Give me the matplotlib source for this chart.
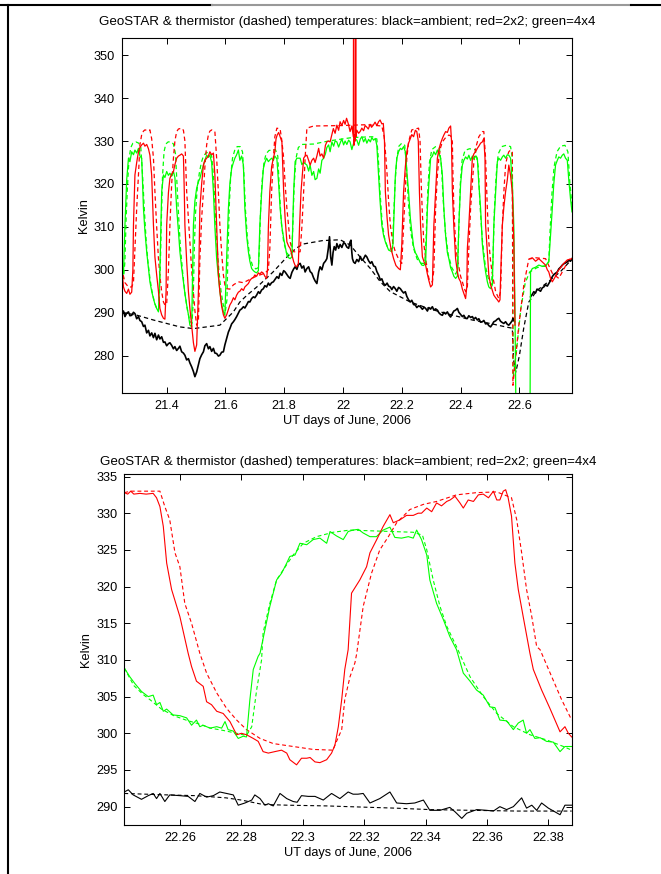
import numpy as np
import matplotlib
matplotlib.use("Agg")
import matplotlib.pyplot as plt
from matplotlib.lines import Line2D

plt.rcParams["font.family"] = ["Liberation Sans", "DejaVu Sans"]

TITLE = "GeoSTAR & thermistor (dashed) temperatures: black=ambient; red=2x2; green=4x4"
XLABEL = "UT days of June, 2006"
YLABEL = "Kelvin"
nan = np.nan

# ---- top panel (whole record), (UT day, K) ----
top_black = [
    (21.248, 289.8), (21.253, 290.4), (21.258, 289.1), (21.264, 289.9), (21.270, 290.2), (21.275, 289.3),
    (21.281, 289.4), (21.287, 290.1), (21.292, 289.8), (21.298, 288.6), (21.304, 289.1), (21.309, 288.2),
    (21.315, 287.9), (21.321, 286.8), (21.326, 287.1), (21.332, 285.3), (21.338, 285.9), (21.343, 284.6),
    (21.349, 285.3), (21.355, 284.2), (21.360, 285.2), (21.366, 283.7), (21.372, 284.8), (21.377, 283.9),
    (21.383, 284.4), (21.389, 283.1), (21.394, 283.2), (21.400, 282.3), (21.406, 282.8), (21.411, 283.0),
    (21.417, 282.4), (21.423, 281.6), (21.428, 282.1), (21.434, 281.2), (21.440, 281.7), (21.445, 282.2),
    (21.451, 280.9), (21.457, 280.6), (21.462, 280.1), (21.468, 279.0), (21.474, 279.3), (21.479, 278.3),
    (21.485, 277.4), (21.491, 276.3), (21.496, 275.1), (21.502, 276.2), (21.508, 277.9), (21.513, 279.3),
    (21.519, 280.2), (21.525, 280.9), (21.530, 282.3), (21.536, 282.8), (21.542, 281.6), (21.547, 282.1),
    (21.553, 281.0), (21.559, 281.7), (21.564, 280.6), (21.570, 280.5), (21.576, 279.9), (21.581, 280.1),
    (21.587, 280.8), (21.593, 280.9), (21.598, 282.5), (21.604, 284.0), (21.610, 285.5), (21.615, 286.3),
    (21.621, 287.4), (21.627, 287.9), (21.632, 288.4), (21.638, 289.1), (21.644, 289.9), (21.649, 290.6),
    (21.655, 290.9), (21.661, 291.4), (21.666, 291.1), (21.672, 291.8), (21.678, 292.6), (21.683, 292.5),
    (21.689, 293.3), (21.695, 293.7), (21.700, 293.5), (21.706, 294.1), (21.712, 294.9), (21.717, 294.5),
    (21.723, 295.3), (21.729, 295.6), (21.734, 296.3), (21.740, 296.0), (21.746, 296.9), (21.751, 296.4),
    (21.757, 297.0), (21.763, 297.2), (21.769, 297.8), (21.775, 298.4), (21.781, 298.0), (21.786, 299.2),
    (21.792, 298.7), (21.798, 299.8), (21.803, 299.5), (21.809, 298.9), (21.815, 298.3), (21.820, 298.0),
    (21.826, 299.4), (21.832, 300.2), (21.837, 300.7), (21.843, 300.1), (21.848, 301.2), (21.854, 301.5),
    (21.860, 300.4), (21.866, 300.9), (21.871, 299.5), (21.877, 300.3), (21.883, 300.7), (21.888, 299.6),
    (21.894, 299.2), (21.900, 298.1), (21.905, 297.4), (21.911, 296.8), (21.917, 299.5), (21.922, 300.7),
    (21.928, 300.0), (21.934, 301.5), (21.940, 302.0), (21.945, 302.6), (21.950, 305.0), (21.954, 307.7),
    (21.958, 303.0), (21.962, 301.1), (21.966, 304.0), (21.970, 305.4), (21.975, 304.6), (21.979, 306.1),
    (21.985, 305.0), (21.990, 305.9), (21.996, 305.2), (22.002, 306.3), (22.007, 306.1), (22.013, 305.3),
    (22.019, 305.0), (22.024, 306.5), (22.027, 306.9), (22.030, 304.0), (22.032, 302.6), (22.036, 301.8),
    (22.041, 301.5), (22.047, 302.4), (22.053, 301.9), (22.059, 303.1), (22.064, 302.2), (22.070, 302.6),
    (22.076, 303.4), (22.081, 303.0), (22.087, 302.1), (22.093, 301.5), (22.098, 301.9), (22.104, 300.9),
    (22.110, 300.7), (22.115, 299.6), (22.121, 298.8), (22.127, 297.6), (22.132, 297.9), (22.138, 296.8),
    (22.144, 296.4), (22.150, 296.9), (22.155, 296.2), (22.161, 296.0), (22.166, 295.4), (22.172, 296.1),
    (22.178, 295.6), (22.183, 295.0), (22.189, 295.9), (22.195, 295.6), (22.200, 295.1), (22.206, 294.6),
    (22.212, 294.9), (22.217, 293.8), (22.223, 293.0), (22.229, 292.5), (22.234, 292.9), (22.240, 291.9),
    (22.246, 291.8), (22.251, 291.2), (22.257, 291.6), (22.263, 291.4), (22.270, 290.8), (22.276, 291.3),
    (22.281, 291.0), (22.287, 290.4), (22.292, 291.2), (22.298, 290.9), (22.304, 291.4), (22.309, 290.6),
    (22.315, 290.9), (22.321, 290.6), (22.326, 290.0), (22.332, 289.6), (22.338, 289.4), (22.343, 290.1),
    (22.349, 289.7), (22.355, 290.2), (22.360, 289.5), (22.366, 289.0), (22.372, 289.8), (22.377, 290.4),
    (22.383, 290.6), (22.389, 291.0), (22.394, 290.1), (22.400, 289.6), (22.406, 289.1), (22.411, 289.4),
    (22.417, 288.7), (22.423, 288.7), (22.428, 289.3), (22.434, 288.9), (22.440, 289.1), (22.445, 288.5),
    (22.451, 288.9), (22.457, 288.3), (22.462, 288.6), (22.468, 287.8), (22.474, 287.9), (22.479, 288.2),
    (22.485, 287.4), (22.491, 287.5), (22.496, 287.0), (22.502, 286.7), (22.508, 287.3), (22.513, 287.9),
    (22.519, 288.1), (22.525, 288.5), (22.530, 288.7), (22.536, 288.0), (22.542, 287.7), (22.547, 287.5),
    (22.553, 287.9), (22.559, 287.3), (22.564, 287.1), (22.570, 287.6), (22.576, 288.2), (22.578, 288.7),
    (22.584, 287.9), (22.585, nan), (22.638, 293.7), (22.644, 294.3), (22.649, 294.9), (22.655, 294.6),
    (22.660, 295.5), (22.666, 295.3), (22.672, 295.0), (22.678, 295.8), (22.683, 296.0), (22.689, 296.5),
    (22.695, 296.2), (22.700, 296.8), (22.706, 297.5), (22.712, 298.4), (22.717, 298.9), (22.723, 299.2),
    (22.729, 299.5), (22.734, 300.2), (22.740, 300.6), (22.746, 301.1), (22.751, 301.4), (22.757, 301.6),
    (22.763, 301.9), (22.768, 302.2), (22.774, 302.0), (22.779, 302.6),
]
top_black_therm = [
    (21.248, 290.1), (21.300, 289.4), (21.355, 288.3), (21.400, 287.5), (21.445, 286.7), (21.491, 286.3),
    (21.536, 286.7), (21.581, 287.1), (21.593, 287.9), (21.627, 290.2), (21.649, 292.5), (21.672, 294.0),
    (21.717, 296.6), (21.762, 299.5), (21.808, 302.9), (21.840, 305.0), (21.864, 306.0), (21.930, 306.8),
    (21.990, 307.0), (22.024, 305.8), (22.058, 303.0), (22.093, 300.3), (22.127, 297.2), (22.161, 294.9),
    (22.195, 293.7), (22.229, 292.5), (22.274, 291.4), (22.320, 290.4), (22.380, 289.3), (22.440, 288.3),
    (22.500, 287.5), (22.560, 286.6), (22.576, 286.4), (22.580, 279.0), (22.588, 276.2), (22.600, 280.0),
    (22.615, 286.5), (22.632, 292.5), (22.660, 295.2), (22.700, 297.3), (22.740, 299.6), (22.779, 302.5),
]
top_red = [
    (21.248, 300.0), (21.253, 296.0), (21.258, 295.0), (21.264, 294.5), (21.270, 295.5), (21.275, 294.3),
    (21.281, 294.8), (21.285, 300.0), (21.287, 310.4), (21.292, 322.1), (21.298, 325.0), (21.304, 327.5),
    (21.309, 328.5), (21.315, 329.1), (21.321, 329.5), (21.326, 328.8), (21.332, 329.2), (21.338, 328.2),
    (21.343, 326.7), (21.349, 322.0), (21.355, 310.4), (21.360, 303.0), (21.366, 298.8), (21.372, 295.0),
    (21.377, 291.0), (21.383, 289.5), (21.389, 288.7), (21.394, 288.5), (21.398, 295.0), (21.400, 310.4),
    (21.406, 318.0), (21.411, 321.3), (21.417, 322.3), (21.423, 322.9), (21.428, 324.5), (21.434, 326.0),
    (21.440, 326.5), (21.445, 326.7), (21.451, 327.0), (21.457, 326.5), (21.460, 318.0), (21.462, 310.4),
    (21.468, 302.0), (21.474, 294.9), (21.479, 291.0), (21.485, 287.1), (21.491, 283.0), (21.496, 281.0),
    (21.502, 282.5), (21.508, 295.0), (21.513, 314.3), (21.519, 320.0), (21.525, 324.4), (21.530, 325.5),
    (21.536, 326.0), (21.542, 326.5), (21.547, 327.5), (21.553, 326.8), (21.559, 327.2), (21.564, 322.1),
    (21.570, 310.4), (21.576, 298.8), (21.581, 295.0), (21.587, 291.5), (21.593, 289.5), (21.598, 288.7),
    (21.604, 289.5), (21.610, 290.8), (21.615, 291.8), (21.621, 292.5), (21.627, 293.5), (21.632, 293.0),
    (21.638, 294.1), (21.644, 294.8), (21.649, 295.0), (21.655, 295.6), (21.661, 295.2), (21.666, 296.0),
    (21.672, 296.4), (21.678, 296.8), (21.683, 297.5), (21.689, 298.0), (21.695, 298.2), (21.700, 298.8),
    (21.706, 298.5), (21.712, 299.3), (21.717, 299.0), (21.723, 299.5), (21.729, 299.2), (21.734, 298.5),
    (21.740, 298.0), (21.743, 300.0), (21.746, 310.0), (21.751, 318.2), (21.757, 324.0), (21.763, 326.0),
    (21.768, 327.5), (21.772, 330.5), (21.776, 331.4), (21.781, 332.0), (21.786, 331.0), (21.792, 329.8),
    (21.798, 318.2), (21.803, 312.0), (21.809, 306.5), (21.815, 305.5), (21.820, 305.0), (21.826, 303.5),
    (21.832, 301.9), (21.837, 301.0), (21.843, 300.7), (21.848, 301.5), (21.852, 310.0), (21.857, 318.2),
    (21.866, 326.0), (21.871, 326.5), (21.877, 326.7), (21.883, 325.5), (21.888, 324.4), (21.894, 325.5),
    (21.900, 326.0), (21.905, 325.0), (21.911, 326.5), (21.917, 328.3), (21.922, 326.5), (21.928, 327.0),
    (21.934, 326.0), (21.940, 329.0), (21.945, 329.8), (21.951, 330.0), (21.956, 329.8), (21.962, 331.5),
    (21.967, 332.9), (21.973, 331.8), (21.979, 333.7), (21.985, 332.5), (21.990, 334.5), (21.996, 333.6),
    (22.002, 334.8), (22.007, 333.9), (22.012, 335.3), (22.018, 334.0), (22.024, 332.2), (22.030, 333.5),
    (22.035, 331.0), (22.036, 370.0), (22.037, 329.0), (22.040, 331.5), (22.042, 330.0), (22.043, 370.0),
    (22.044, 331.0), (22.047, 332.5),
    (22.053, 331.8), (22.058, 332.2), (22.064, 333.0), (22.070, 332.4), (22.075, 333.6), (22.080, 333.3),
    (22.086, 332.8), (22.092, 333.9), (22.097, 333.2), (22.103, 333.7), (22.109, 334.4), (22.115, 333.6),
    (22.121, 334.5), (22.126, 334.9), (22.132, 334.0), (22.137, 334.1), (22.141, 330.0), (22.144, 318.2),
    (22.150, 312.0), (22.155, 308.1), (22.163, 305.0), (22.172, 302.6), (22.180, 301.0), (22.189, 300.3),
    (22.195, 300.0), (22.200, 306.0), (22.206, 318.2), (22.212, 324.0), (22.217, 327.5), (22.223, 329.5),
    (22.229, 330.6), (22.234, 331.5), (22.240, 331.0), (22.246, 332.5), (22.251, 332.2), (22.256, 330.0),
    (22.260, 318.0), (22.264, 310.0), (22.270, 303.0), (22.276, 301.8), (22.281, 301.1), (22.287, 299.0),
    (22.292, 297.5), (22.298, 296.0), (22.304, 296.5), (22.309, 310.4), (22.315, 318.0), (22.321, 326.0),
    (22.326, 328.0), (22.332, 329.5), (22.338, 330.6), (22.343, 331.4), (22.349, 332.2), (22.355, 332.0),
    (22.360, 333.0), (22.366, 333.5), (22.369, 330.0), (22.372, 318.2), (22.377, 310.0), (22.383, 302.6),
    (22.389, 299.5), (22.394, 298.0), (22.400, 297.2), (22.406, 295.5), (22.411, 294.5), (22.417, 293.3),
    (22.421, 296.0), (22.423, 305.0), (22.428, 310.4), (22.434, 318.0), (22.440, 326.0), (22.445, 327.0),
    (22.451, 327.5), (22.457, 328.3), (22.462, 328.8), (22.468, 329.5), (22.474, 329.8), (22.479, 330.6),
    (22.483, 326.0), (22.485, 310.4), (22.491, 304.0), (22.496, 298.8), (22.502, 296.5), (22.508, 295.2),
    (22.513, 294.1), (22.519, 293.5), (22.525, 293.0), (22.530, 292.5), (22.534, 293.0), (22.536, 298.0),
    (22.542, 310.4), (22.547, 314.5), (22.553, 318.2), (22.559, 321.0), (22.564, 324.4), (22.570, 322.0),
    (22.576, 318.0), (22.581, 306.5), (22.585, 287.1), (22.586, nan), (22.636, 302.6), (22.644, 302.8),
    (22.655, 302.0), (22.666, 302.6), (22.678, 301.8), (22.689, 301.1), (22.695, 300.0), (22.700, 299.5),
    (22.706, 298.0), (22.712, 297.2), (22.717, 297.8), (22.723, 298.5), (22.729, 299.5), (22.740, 300.5),
    (22.751, 301.5), (22.763, 302.3), (22.779, 302.6),
]
top_red_therm = [
    (21.248, 300.5), (21.253, 298.5), (21.258, 297.0), (21.264, 296.5), (21.270, 296.0), (21.281, 296.0),
    (21.287, 297.0), (21.292, 305.0), (21.298, 314.3), (21.304, 322.1), (21.309, 329.1), (21.315, 331.5),
    (21.321, 332.3), (21.326, 332.6), (21.338, 332.4), (21.343, 332.6), (21.349, 330.5), (21.355, 326.0),
    (21.360, 318.2), (21.366, 310.0), (21.372, 302.6), (21.377, 298.5), (21.383, 294.9), (21.389, 292.5),
    (21.394, 291.8), (21.400, 292.0), (21.406, 300.0), (21.411, 310.4), (21.417, 320.0), (21.423, 326.0),
    (21.428, 330.0), (21.434, 332.2), (21.440, 332.8), (21.451, 333.0), (21.457, 332.5), (21.462, 330.0),
    (21.468, 318.2), (21.474, 312.0), (21.479, 306.5), (21.485, 300.0), (21.491, 294.9), (21.496, 290.5),
    (21.502, 287.1), (21.508, 288.0), (21.513, 302.6), (21.519, 312.0), (21.525, 318.2), (21.530, 324.0),
    (21.536, 329.1), (21.542, 331.5), (21.547, 332.3), (21.553, 332.6), (21.564, 332.2), (21.570, 326.0),
    (21.576, 318.0), (21.581, 310.4), (21.587, 304.0), (21.593, 298.8), (21.598, 296.5), (21.604, 295.6),
    (21.615, 295.5), (21.627, 296.5), (21.644, 297.2), (21.661, 297.0), (21.678, 297.6), (21.695, 298.2),
    (21.717, 298.8), (21.734, 299.2), (21.746, 300.0), (21.751, 305.0), (21.757, 318.2), (21.763, 326.0),
    (21.768, 331.0), (21.775, 333.0), (21.786, 332.8), (21.792, 330.0), (21.798, 326.0), (21.803, 320.0),
    (21.809, 314.3), (21.815, 310.0), (21.820, 306.5), (21.826, 305.0), (21.832, 304.2), (21.854, 304.2),
    (21.860, 310.0), (21.866, 318.2), (21.871, 326.0), (21.877, 333.0), (21.900, 333.5), (21.990, 333.6),
    (22.081, 333.8), (22.132, 333.5), (22.140, 331.0), (22.146, 326.0), (22.150, 322.1), (22.155, 316.0),
    (22.161, 310.4), (22.170, 306.0), (22.178, 304.2), (22.189, 302.5), (22.200, 301.5), (22.206, 310.0),
    (22.212, 318.2), (22.217, 326.0), (22.223, 329.8), (22.234, 332.6), (22.257, 333.0), (22.262, 330.0),
    (22.266, 320.0), (22.270, 313.0), (22.275, 306.0), (22.281, 302.6), (22.287, 300.0), (22.292, 298.0),
    (22.298, 297.2), (22.304, 297.2), (22.309, 300.0), (22.315, 314.3), (22.321, 322.0), (22.326, 326.0),
    (22.332, 328.5), (22.338, 329.8), (22.349, 330.8), (22.360, 331.4), (22.366, 331.2), (22.372, 329.8),
    (22.374, 322.0), (22.377, 314.3), (22.383, 306.0), (22.389, 302.6), (22.400, 298.5), (22.406, 297.2),
    (22.411, 296.0), (22.417, 294.9), (22.423, 296.0), (22.428, 305.0), (22.434, 314.3), (22.440, 320.0),
    (22.445, 325.0), (22.451, 328.3), (22.462, 331.0), (22.474, 332.2), (22.479, 332.2), (22.485, 326.0),
    (22.491, 314.3), (22.496, 306.5), (22.502, 302.0), (22.508, 299.0), (22.513, 297.2), (22.519, 295.0),
    (22.525, 294.0), (22.530, 293.3), (22.536, 295.0), (22.542, 310.4), (22.547, 318.0), (22.553, 324.4),
    (22.559, 326.5), (22.564, 327.5), (22.570, 327.9), (22.576, 327.5), (22.578, 273.1), (22.587, 279.3),
    (22.598, 287.1), (22.615, 296.4), (22.632, 302.5), (22.655, 302.8), (22.689, 302.6), (22.712, 299.2),
    (22.734, 298.0), (22.746, 299.5), (22.768, 302.3), (22.779, 302.8),
]
top_green = [
    (21.248, 300.0), (21.253, 299.0), (21.258, 310.4), (21.264, 321.0), (21.270, 326.0), (21.275, 325.2),
    (21.281, 327.5), (21.287, 326.8), (21.292, 327.9), (21.298, 327.2), (21.304, 328.3), (21.309, 326.5),
    (21.315, 326.0), (21.321, 314.3), (21.326, 309.0), (21.332, 304.2), (21.338, 300.5), (21.343, 297.2),
    (21.349, 295.0), (21.355, 293.3), (21.360, 292.0), (21.366, 291.0), (21.372, 290.2), (21.377, 300.0),
    (21.383, 318.2), (21.389, 322.1), (21.394, 321.5), (21.400, 322.9), (21.406, 322.0), (21.411, 322.5),
    (21.417, 321.8), (21.423, 322.9), (21.428, 321.5), (21.434, 314.3), (21.440, 309.0), (21.445, 304.2),
    (21.451, 300.5), (21.457, 297.2), (21.462, 294.5), (21.468, 291.8), (21.474, 289.5), (21.479, 287.1),
    (21.485, 286.7), (21.491, 310.4), (21.496, 316.0), (21.502, 319.0), (21.508, 320.5), (21.513, 321.3),
    (21.519, 323.0), (21.525, 324.4), (21.530, 325.5), (21.536, 326.7), (21.542, 326.2), (21.547, 326.7),
    (21.553, 325.0), (21.559, 318.2), (21.564, 310.0), (21.570, 302.6), (21.576, 298.5), (21.581, 294.9),
    (21.587, 292.0), (21.593, 290.2), (21.598, 289.4), (21.604, 302.6), (21.610, 314.3), (21.615, 320.0),
    (21.621, 323.6), (21.627, 325.0), (21.632, 326.0), (21.638, 326.8), (21.644, 327.9), (21.649, 325.5),
    (21.655, 326.5), (21.661, 324.4), (21.666, 314.3), (21.672, 308.0), (21.678, 304.2), (21.683, 302.0),
    (21.689, 300.3), (21.695, 299.8), (21.700, 299.5), (21.706, 299.3), (21.712, 299.8), (21.717, 310.4),
    (21.723, 318.0), (21.729, 323.6), (21.734, 325.0), (21.740, 326.0), (21.746, 325.2), (21.751, 325.6),
    (21.757, 326.0), (21.763, 325.5), (21.768, 326.5), (21.775, 325.8), (21.781, 320.0), (21.786, 314.3),
    (21.792, 310.0), (21.798, 307.3), (21.809, 303.4), (21.815, 302.8), (21.820, 302.6), (21.826, 303.0),
    (21.832, 318.2), (21.837, 325.2), (21.843, 326.0), (21.854, 326.0), (21.860, 324.5), (21.866, 325.0),
    (21.877, 324.4), (21.883, 323.0), (21.888, 324.4), (21.894, 322.0), (21.900, 322.9), (21.905, 321.0),
    (21.911, 321.3), (21.917, 323.5), (21.922, 322.5), (21.928, 325.5), (21.934, 326.0), (21.940, 327.0),
    (21.945, 328.5), (21.951, 329.1), (21.956, 327.5), (21.962, 329.8), (21.968, 328.8), (21.973, 330.0),
    (21.979, 329.8), (21.985, 328.6), (21.990, 329.5), (21.996, 330.5), (22.002, 329.1), (22.007, 330.0),
    (22.013, 329.2), (22.019, 330.2), (22.024, 329.8), (22.030, 328.0), (22.036, 329.5), (22.041, 330.5),
    (22.047, 330.2), (22.053, 329.0), (22.059, 330.5), (22.064, 331.0), (22.070, 329.8), (22.076, 330.6),
    (22.081, 329.5), (22.087, 330.4), (22.093, 329.8), (22.098, 330.8), (22.104, 330.2), (22.110, 330.6),
    (22.115, 329.0), (22.121, 322.1), (22.126, 316.0), (22.132, 310.4), (22.138, 308.0), (22.144, 306.5),
    (22.150, 305.5), (22.155, 304.6), (22.161, 304.4), (22.166, 304.2), (22.170, 306.0), (22.174, 314.3),
    (22.178, 322.0), (22.183, 326.0), (22.189, 327.5), (22.195, 328.3), (22.200, 328.0), (22.206, 328.7),
    (22.212, 327.5), (22.217, 323.0), (22.223, 318.2), (22.229, 312.0), (22.234, 308.9), (22.240, 305.5),
    (22.246, 304.0), (22.251, 303.4), (22.257, 302.5), (22.262, 301.8), (22.268, 301.1), (22.274, 301.0),
    (22.281, 301.5), (22.287, 314.3), (22.292, 320.0), (22.298, 326.0), (22.304, 326.5), (22.309, 327.5),
    (22.315, 326.8), (22.321, 327.9), (22.326, 327.0), (22.332, 326.0), (22.338, 322.0), (22.343, 314.3),
    (22.349, 308.0), (22.355, 304.0), (22.360, 302.6), (22.366, 300.5), (22.372, 299.5), (22.377, 298.5),
    (22.383, 298.0), (22.389, 298.5), (22.394, 310.4), (22.400, 320.0), (22.406, 324.4), (22.411, 325.5),
    (22.417, 326.3), (22.423, 325.8), (22.428, 326.7), (22.434, 325.5), (22.440, 326.5), (22.445, 325.8),
    (22.451, 326.5), (22.457, 326.0), (22.462, 320.0), (22.468, 314.3), (22.474, 306.0), (22.479, 302.6),
    (22.485, 299.5), (22.491, 297.2), (22.496, 296.0), (22.502, 295.6), (22.508, 296.5), (22.513, 310.4),
    (22.519, 318.0), (22.525, 325.2), (22.530, 326.0), (22.536, 325.5), (22.542, 326.3), (22.547, 326.7),
    (22.553, 326.0), (22.559, 326.8), (22.564, 326.7), (22.570, 326.0), (22.576, 320.0), (22.581, 310.4),
    (22.585, 290.0), (22.589, 262.0), (22.636, 262.0), (22.638, 299.5), (22.644, 300.3), (22.655, 300.6),
    (22.666, 301.1), (22.678, 300.8), (22.689, 300.8), (22.695, 301.5), (22.700, 301.8), (22.706, 308.0),
    (22.712, 314.3), (22.717, 320.0), (22.723, 324.4), (22.729, 325.5), (22.734, 326.3), (22.740, 326.0),
    (22.746, 326.7), (22.751, 327.0), (22.757, 326.0), (22.763, 325.5), (22.768, 321.0), (22.774, 316.5),
    (22.779, 313.5),
]
top_green_therm = [
    (21.248, 300.5), (21.253, 298.0), (21.258, 302.0), (21.262, 312.0), (21.267, 320.0), (21.272, 326.0),
    (21.278, 328.5), (21.285, 329.5), (21.295, 329.8), (21.305, 329.5), (21.312, 328.5), (21.318, 322.0),
    (21.324, 314.0), (21.330, 307.0), (21.336, 302.0), (21.343, 298.0), (21.350, 295.0), (21.358, 292.5),
    (21.366, 291.0), (21.374, 291.0), (21.378, 300.0), (21.382, 312.0), (21.386, 322.0), (21.391, 327.5),
    (21.397, 329.3), (21.405, 329.8), (21.415, 329.8), (21.423, 329.3), (21.430, 327.0), (21.435, 320.0),
    (21.441, 312.0), (21.447, 305.0), (21.455, 299.0), (21.463, 294.0), (21.471, 290.5), (21.479, 288.0),
    (21.486, 287.5), (21.490, 292.0), (21.494, 305.0), (21.498, 313.0), (21.504, 319.0), (21.511, 322.5),
    (21.518, 325.0), (21.525, 326.5), (21.535, 327.3), (21.545, 327.3), (21.553, 326.5), (21.559, 322.0),
    (21.565, 314.0), (21.571, 306.0), (21.578, 299.5), (21.585, 295.0), (21.592, 292.0), (21.600, 290.5),
    (21.605, 293.0), (21.609, 305.0), (21.613, 315.0), (21.618, 322.0), (21.624, 326.0), (21.632, 328.0),
    (21.640, 328.7), (21.650, 328.7), (21.658, 327.5), (21.663, 322.0), (21.668, 314.0), (21.675, 307.0),
    (21.683, 303.0), (21.692, 301.0), (21.703, 300.2), (21.712, 300.5), (21.716, 306.0), (21.720, 315.0),
    (21.725, 321.0), (21.731, 325.0), (21.738, 327.0), (21.748, 327.8), (21.770, 328.0), (21.778, 326.5),
    (21.784, 318.0), (21.790, 311.0), (21.798, 306.5), (21.808, 304.0), (21.818, 303.2), (21.826, 304.0),
    (21.830, 312.0), (21.834, 320.0), (21.840, 326.0), (21.848, 328.5), (21.860, 329.2), (21.900, 329.3),
    (21.950, 330.0), (22.030, 330.8), (22.100, 331.0), (22.115, 330.5), (22.120, 326.0), (22.126, 318.0),
    (22.133, 311.0), (22.141, 307.5), (22.150, 305.5), (22.160, 304.8), (22.168, 305.0), (22.172, 312.0),
    (22.177, 320.0), (22.183, 326.0), (22.190, 328.8), (22.200, 329.5), (22.210, 329.0), (22.216, 324.0),
    (22.222, 316.0), (22.230, 309.0), (22.240, 305.0), (22.252, 302.5), (22.266, 301.5), (22.278, 301.5),
    (22.283, 308.0), (22.288, 318.0), (22.294, 325.0), (22.302, 328.0), (22.315, 328.7), (22.328, 328.3),
    (22.335, 324.0), (22.341, 316.0), (22.348, 309.0), (22.358, 303.5), (22.370, 300.5), (22.383, 299.0),
    (22.390, 300.0), (22.394, 310.0), (22.399, 320.0), (22.405, 325.5), (22.415, 327.8), (22.430, 328.2),
    (22.450, 328.0), (22.460, 324.0), (22.466, 315.0), (22.474, 307.0), (22.484, 301.0), (22.496, 297.5),
    (22.505, 296.5), (22.510, 302.0), (22.515, 314.0), (22.521, 322.0), (22.528, 327.0), (22.540, 328.7),
    (22.555, 329.0), (22.570, 328.7), (22.576, 326.0), (22.579, 275.0), (22.590, 281.0), (22.605, 291.0),
    (22.620, 297.0), (22.635, 299.5), (22.660, 300.5), (22.690, 301.0), (22.700, 302.0), (22.705, 310.0),
    (22.711, 318.0), (22.718, 324.0), (22.728, 327.5), (22.740, 328.8), (22.755, 329.0), (22.765, 327.5),
    (22.772, 320.0), (22.779, 315.0),
]

# ---- bottom panel (zoom on 22.24 - 22.39) ----
bot_black = [
    (22.2419, 292.0), (22.2432, 292.3), (22.2448, 291.6), (22.2475, 291.0), (22.2497, 291.5), (22.2513, 291.8),
    (22.2524, 291.1), (22.2535, 291.8), (22.2551, 290.7), (22.2567, 291.6), (22.2600, 291.5), (22.2627, 291.4),
    (22.2649, 290.7), (22.2665, 291.8), (22.2687, 291.3), (22.2709, 291.5), (22.2730, 292.0), (22.2752, 291.8),
    (22.2774, 291.6), (22.2790, 290.2), (22.2812, 290.5), (22.2834, 290.9), (22.2844, 291.6), (22.2861, 291.1),
    (22.2877, 290.2), (22.2888, 290.4), (22.2904, 290.1), (22.2926, 291.8), (22.2948, 291.1), (22.2969, 290.7),
    (22.2982, 290.6), (22.2996, 291.5), (22.3018, 291.4), (22.3040, 291.4), (22.3067, 290.9), (22.3094, 291.8),
    (22.3121, 291.1), (22.3148, 292.0), (22.3164, 291.7), (22.3180, 291.7), (22.3197, 291.8), (22.3219, 290.5),
    (22.3251, 291.1), (22.3284, 292.0), (22.3306, 290.5), (22.3338, 290.4), (22.3365, 290.5), (22.3393, 290.9),
    (22.3414, 289.5), (22.3447, 289.5), (22.3479, 289.9), (22.3496, 289.3), (22.3518, 288.4), (22.3534, 289.1),
    (22.3567, 289.6), (22.3599, 289.5), (22.3621, 289.4), (22.3642, 290.0), (22.3664, 289.6), (22.3686, 290.0),
    (22.3713, 291.2), (22.3729, 289.8), (22.3746, 290.2), (22.3762, 289.5), (22.3778, 290.5), (22.3800, 289.8),
    (22.3838, 288.9), (22.3854, 290.2), (22.3876, 290.2),
]
bot_black_therm = [
    (22.2419, 291.8), (22.2560, 291.6), (22.2650, 291.5), (22.2750, 291.2), (22.2800, 290.9), (22.2870, 290.3),
    (22.2950, 290.2), (22.3080, 290.1), (22.3150, 290.0), (22.3300, 289.8), (22.3414, 289.6), (22.3550, 289.5),
    (22.3700, 289.4), (22.3876, 289.4),
]
bot_red = [
    (22.2419, 332.8), (22.2430, 332.6), (22.2440, 333.0), (22.2450, 332.6), (22.2470, 332.7), (22.2490, 332.6),
    (22.2513, 332.7), (22.2524, 332.1), (22.2535, 330.9), (22.2546, 328.2), (22.2557, 323.2), (22.2573, 319.6),
    (22.2600, 315.9), (22.2627, 310.9), (22.2638, 309.1), (22.2654, 307.1), (22.2676, 306.4), (22.2687, 304.3),
    (22.2703, 303.9), (22.2720, 303.0), (22.2741, 302.7), (22.2763, 301.6), (22.2785, 299.8), (22.2801, 300.0),
    (22.2817, 299.8), (22.2839, 299.3), (22.2855, 298.9), (22.2871, 297.5), (22.2888, 297.3), (22.2909, 297.5),
    (22.2931, 297.7), (22.2948, 297.3), (22.2958, 296.4), (22.2980, 295.7), (22.2996, 296.6), (22.3013, 296.6),
    (22.3024, 296.7), (22.3040, 296.1), (22.3056, 296.0), (22.3078, 296.4), (22.3094, 297.3), (22.3105, 298.4),
    (22.3116, 300.9), (22.3127, 304.6), (22.3137, 308.7), (22.3148, 311.4), (22.3159, 319.1), (22.3186, 320.9),
    (22.3208, 322.7), (22.3219, 324.6), (22.3241, 326.4), (22.3262, 328.2), (22.3284, 329.8), (22.3295, 328.7),
    (22.3317, 329.1), (22.3338, 329.7), (22.3360, 329.7), (22.3376, 330.0), (22.3387, 330.0), (22.3404, 330.7),
    (22.3420, 330.2), (22.3436, 331.4), (22.3452, 331.0), (22.3469, 331.6), (22.3480, 331.8), (22.3496, 332.3),
    (22.3512, 331.4), (22.3523, 330.7), (22.3539, 331.8), (22.3556, 331.6), (22.3572, 332.5), (22.3588, 332.6),
    (22.3605, 332.1), (22.3621, 333.0), (22.3632, 331.8), (22.3642, 331.8), (22.3653, 333.0), (22.3661, 333.2),
    (22.3669, 332.1), (22.3680, 329.6), (22.3691, 323.2), (22.3702, 319.6), (22.3718, 315.9), (22.3740, 310.9),
    (22.3751, 308.7), (22.3778, 305.9), (22.3805, 303.4), (22.3838, 300.2), (22.3854, 300.9), (22.3865, 300.0),
    (22.3876, 299.5),
]
bot_red_therm = [
    (22.2419, 332.8), (22.2440, 333.0), (22.2535, 333.0), (22.2551, 330.9), (22.2567, 329.1), (22.2584, 324.6),
    (22.2600, 322.7), (22.2616, 317.7), (22.2638, 315.0), (22.2665, 310.9), (22.2687, 308.2), (22.2720, 305.5),
    (22.2752, 303.4), (22.2785, 301.8), (22.2817, 300.5), (22.2861, 299.3), (22.2904, 298.6), (22.2969, 298.2),
    (22.3034, 297.8), (22.3099, 297.7), (22.3105, 298.4), (22.3127, 300.5), (22.3137, 304.6), (22.3154, 307.7),
    (22.3170, 309.6), (22.3176, 310.9), (22.3197, 317.3), (22.3224, 321.8), (22.3251, 325.0), (22.3279, 326.8),
    (22.3306, 328.7), (22.3349, 330.5), (22.3393, 331.2), (22.3436, 331.6), (22.3501, 332.5), (22.3566, 332.8),
    (22.3632, 332.9), (22.3680, 332.1), (22.3697, 329.1), (22.3713, 324.6), (22.3729, 319.6), (22.3746, 315.9),
    (22.3762, 311.8), (22.3773, 311.4), (22.3811, 307.7), (22.3843, 304.6), (22.3876, 301.8),
]
bot_green = [
    (22.2419, 308.9), (22.2437, 307.7), (22.2453, 306.8), (22.2475, 305.7), (22.2497, 305.0), (22.2513, 305.2),
    (22.2524, 303.9), (22.2535, 304.2), (22.2546, 303.0), (22.2557, 303.3), (22.2578, 302.5), (22.2600, 302.4),
    (22.2622, 302.1), (22.2638, 301.1), (22.2654, 301.8), (22.2665, 300.9), (22.2676, 301.1), (22.2698, 300.7),
    (22.2720, 300.9), (22.2736, 300.7), (22.2747, 301.6), (22.2757, 300.5), (22.2774, 300.3), (22.2790, 299.3),
    (22.2806, 299.6), (22.2817, 299.5), (22.2828, 304.6), (22.2839, 308.7), (22.2855, 310.5), (22.2861, 310.9),
    (22.2877, 314.1), (22.2893, 317.3), (22.2915, 320.9), (22.2931, 321.8), (22.2948, 323.2), (22.2958, 324.1),
    (22.2975, 324.3), (22.2991, 325.9), (22.3013, 325.7), (22.3034, 326.4), (22.3056, 326.6), (22.3078, 325.9),
    (22.3089, 327.5), (22.3110, 326.9), (22.3132, 326.4), (22.3148, 327.5), (22.3164, 327.7), (22.3181, 327.8),
    (22.3197, 327.3), (22.3219, 326.8), (22.3240, 326.8), (22.3262, 327.7), (22.3284, 328.1), (22.3300, 326.7),
    (22.3322, 326.6), (22.3344, 326.8), (22.3360, 326.6), (22.3371, 327.7), (22.3387, 326.4), (22.3404, 324.3),
    (22.3414, 320.9), (22.3436, 317.7), (22.3458, 315.5), (22.3479, 313.2), (22.3501, 311.4), (22.3523, 308.2),
    (22.3545, 307.1), (22.3566, 305.9), (22.3588, 305.2), (22.3610, 303.6), (22.3626, 303.5), (22.3642, 301.8),
    (22.3664, 301.7), (22.3686, 300.5), (22.3702, 301.4), (22.3718, 301.8), (22.3729, 300.0), (22.3740, 300.5),
    (22.3756, 299.3), (22.3773, 299.4), (22.3794, 298.9), (22.3816, 298.8), (22.3838, 297.5), (22.3854, 298.2),
    (22.3876, 298.2),
]
bot_green_therm = [
    (22.2419, 308.9), (22.2450, 306.5), (22.2480, 305.3), (22.2502, 304.6), (22.2540, 303.3), (22.2580, 302.4),
    (22.2620, 301.8), (22.2660, 301.3), (22.2700, 300.7), (22.2740, 300.4), (22.2785, 300.0), (22.2817, 299.7),
    (22.2834, 300.9), (22.2850, 305.9), (22.2866, 310.0), (22.2871, 313.7), (22.2893, 317.7), (22.2915, 320.9),
    (22.2948, 323.0), (22.2969, 324.3), (22.3002, 325.9), (22.3045, 326.8), (22.3099, 327.4), (22.3154, 327.7),
    (22.3220, 327.6), (22.3290, 327.5), (22.3360, 327.4), (22.3390, 327.0), (22.3404, 325.0), (22.3425, 320.9),
    (22.3447, 317.3), (22.3469, 314.6), (22.3501, 311.8), (22.3545, 307.7), (22.3588, 305.0), (22.3632, 302.7),
    (22.3686, 300.9), (22.3740, 299.8), (22.3794, 299.1), (22.3849, 298.2), (22.3876, 297.7),
]

top_xticks = [21.4, 21.6, 21.8, 22.0, 22.2, 22.4, 22.6]
top_xlabels = ["21.4", "21.6", "21.8", "22", "22.2", "22.4", "22.6"]
top_yticks = [280, 290, 300, 310, 320, 330, 340, 350]
bot_xticks = [22.26, 22.28, 22.30, 22.32, 22.34, 22.36, 22.38]
bot_xlabels = ["22.26", "22.28", "22.3", "22.32", "22.34", "22.36", "22.38"]
bot_yticks = [290, 295, 300, 305, 310, 315, 320, 325, 330, 335]

FS = 9.2


def draw(ax, series):
    for data, color, dashed, lw in series:
        t, k = zip(*data)
        if dashed:
            ax.plot(t, k, color=color, lw=lw, linestyle=(0, (3.5, 2.5)))
        else:
            ax.plot(t, k, color=color, lw=lw)


def style(ax, xticks, xlabels, yticks, title_pad):
    ax.set_xticks(xticks)
    ax.set_xticklabels(xlabels)
    ax.set_yticks(yticks)
    ax.tick_params(direction="in", top=True, right=True, length=4, width=0.7,
                   labelsize=FS, pad=5)
    for s in ax.spines.values():
        s.set_linewidth(0.8)
    ax.set_title(TITLE, fontsize=9.6, pad=title_pad)
    ax.set_xlabel(XLABEL, fontsize=FS, labelpad=2)
    ax.set_ylabel(YLABEL, fontsize=FS, labelpad=3)


fig = plt.figure(figsize=(6.61, 8.74), dpi=100)

ax1 = fig.add_axes([122 / 661, 1 - 393 / 874, 450 / 661, 355 / 874])
draw(ax1, [
    (top_black_therm, "black", True, 0.9),
    (top_green_therm, "#00ff00", True, 0.9),
    (top_red_therm, "#ff0000", True, 0.9),
    (top_black, "black", False, 1.2),
    (top_green, "#00ff00", False, 0.9),
    (top_red, "#ff0000", False, 0.9),
])
ax1.set_xlim(21.248, 22.779)
ax1.set_ylim(271.3, 354)
style(ax1, top_xticks, top_xlabels, top_yticks, 9)

ax2 = fig.add_axes([124.3 / 661, 1 - 825 / 874, 447.4 / 661, 350.7 / 874])
draw(ax2, [
    (bot_black_therm, "black", True, 0.8),
    (bot_green_therm, "#00ff00", True, 0.8),
    (bot_red_therm, "#ff0000", True, 0.8),
    (bot_black, "black", False, 0.8),
    (bot_green, "#00ff00", False, 0.8),
    (bot_red, "#ff0000", False, 0.8),
])
ax2.set_xlim(22.2419, 22.3876)
ax2.set_ylim(287.5, 335.3)
style(ax2, bot_xticks, bot_xlabels, bot_yticks, 7)

# page border left over from the scanned document
fig.add_artist(Line2D([8 / 661, 8 / 661], [0, 1 - 5 / 874], color="black", lw=1.5))
fig.add_artist(Line2D([0, 212 / 661], [1 - 5 / 874, 1 - 5 / 874], color="black", lw=1.5))
fig.add_artist(Line2D([212 / 661, 631 / 661], [1 - 5 / 874, 1 - 5 / 874], color="#999999", lw=1.5))
fig.add_artist(Line2D([631 / 661, 1], [1 - 5 / 874, 1 - 5 / 874], color="black", lw=1.5))

fig.savefig("out.png", dpi=100)
